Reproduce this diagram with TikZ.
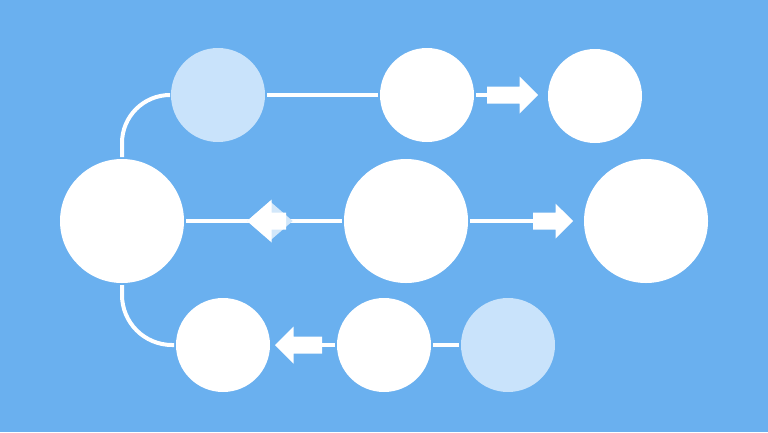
\documentclass[tikz,border=0pt]{standalone}
\usetikzlibrary{positioning,shapes.geometric,shapes.arrows}
\definecolor{skyback}{HTML}{6AB0EF}
\definecolor{paleblue}{HTML}{C9E3FB}

\begin{document}
\begin{tikzpicture}[x=1bp, y=-1bp, on grid, line width=4bp, white,
  ball/.style={circle, fill=white, draw=none, minimum size=94bp, inner sep=0pt},
  bigball/.style={ball, minimum size=124bp},
  paleball/.style={ball, fill=paleblue},
  blockarrow/.style={single arrow, fill=white, draw=none, inner sep=6.5bp, outer sep=0pt,
    single arrow head extend=10bp, minimum height=#1, anchor=tail}]
  \fill[skyback] (0,0) rectangle (768,432);

  \node[paleball] (n1) at (218,95) {};
  \node[ball] (n2) [right=209bp of n1] {};
  \node[ball] (n3) at (595,96) {};
  \node[bigball] (n4) at (122,221) {};
  \node[bigball] (n5) [right=284bp of n4] {};
  \node[bigball] (n6) [right=240bp of n5] {};
  \node[ball] (n7) at (223,345) {};
  \node[ball] (n8) [right=161bp of n7] {};
  \node[paleball] (n9) [right=124bp of n8] {};

  \draw[rounded corners=48bp] (n4) |- (n1);
  \draw[rounded corners=50bp] (n4) |- (n7);
  \draw (n1) -- (n2);
  \draw (n4) -- (n5);
  \draw (n8) -- (n9);

  \node[diamond, fill=white!70!skyback, inner sep=0pt, minimum width=47bp, minimum height=41bp] (d1) at (270,221) {};
  \node[blockarrow=39bp, single arrow head extend=13bp, single arrow tip angle=82, shape border rotate=180] (a2) at (286,221) {};
  \node[blockarrow=51bp] (a1) at (487,95) {};
  \node[blockarrow=40bp, single arrow head extend=9bp] (a3) at (533,221) {};
  \node[blockarrow=47bp, shape border rotate=180] (a4) at (322,345) {};

  \draw (n2) -- (a1.tail);
  \draw (n5) -- (a3.tail);
  \draw (n8) -- (a4.tail);
\end{tikzpicture}
\end{document}
